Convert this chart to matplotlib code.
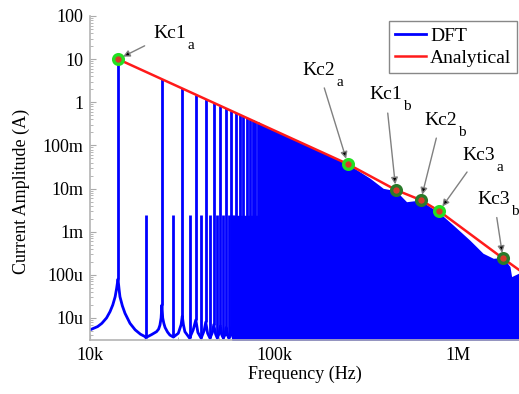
import matplotlib.pyplot as plt
from matplotlib.ticker import NullFormatter

plt.rcParams['font.family'] = ['Liberation Serif', 'DejaVu Serif']

# DFT trace below the spikes (resonance skirts), frequency in Hz, current in A
skirt_f = [10000, 11000, 11600, 12300, 12850, 13300, 13700, 13950, 14200, 14400,
           14550, 15000, 15500, 16500, 17600, 18800, 19900, 20100, 21600, 23000,
           23600, 24000, 24350, 24600, 24850, 25200, 25600, 26400, 27200, 28400,
           30200, 31300, 31750, 32200, 32800, 34800, 36400, 37600, 38600, 40200,
           41700, 42600, 43600, 44900, 46200, 47100, 48200, 49200, 50200, 51200,
           52100, 53100, 54100, 55000, 55900, 56800, 57700, 58500, 59300, 60200]
skirt_a = [5.3e-6, 6.3e-6, 7.5e-6, 1.0e-5, 1.4e-5, 2.0e-5, 3.1e-5, 4.8e-5, 8.0e-5, 4.5e-5,
           3.1e-5, 1.9e-5, 1.28e-5, 7.5e-6, 5.3e-6, 4.2e-6, 3.7e-6, 3.5e-6, 4.1e-6, 4.8e-6,
           5.5e-6, 6.8e-6, 1.0e-5, 2.0e-5, 1.0e-5, 7.5e-6, 6.0e-6, 4.7e-6, 4.0e-6, 3.6e-6,
           4.4e-6, 7.0e-6, 1.1e-5, 7.0e-6, 4.8e-6, 3.4e-6, 5.3e-6, 9.0e-6, 4.6e-6, 3.4e-6,
           5.0e-6, 8.0e-6, 4.4e-6, 3.4e-6, 4.5e-6, 7.0e-6, 4.2e-6, 3.4e-6, 4.2e-6, 6.5e-6,
           4.0e-6, 3.4e-6, 4.0e-6, 6.0e-6, 4.0e-6, 3.4e-6, 4.0e-6, 6.0e-6, 4.0e-6, 3.4e-6]

# tall spectral lines
odd_f = [14200, 24600, 31750, 37600, 42600, 47100, 51200, 55000, 58500,
         61900, 65100, 68100, 71000, 73800, 76500, 79100, 81600, 84000]
odd_top = [10, 3.45, 2.10, 1.51, 1.19, 0.98, 0.83, 0.72, 0.64,
           0.575, 0.52, 0.48, 0.44, 0.41, 0.38, 0.36, 0.34, 0.32]
odd_base = [8.0e-5, 2.0e-5, 1.1e-5, 9.0e-6, 8.0e-6, 7.0e-6, 6.5e-6, 6.0e-6, 6.0e-6,
            5e-6, 5e-6, 5e-6, 5e-6, 5e-6, 5e-6, 5e-6, 5e-6, 5e-6]

# short spectral lines
even_f = [20100, 28400, 34800, 40200, 44900, 49200, 53100, 56800, 60200]
even_top = [2.4e-3, 2.4e-3, 2.4e-3, 2.4e-3, 2.4e-3, 2.4e-3, 2.4e-3, 2.4e-3, 2.4e-3]
even_base = [3.5e-6, 3.6e-6, 3.4e-6, 3.4e-6, 3.4e-6, 3.4e-6, 3.4e-6, 3.4e-6, 3.4e-6]

# upper edge of the dense part of the spectrum
dense_f = [59000, 84000, 84000, 252000, 333000, 393000, 460000, 526000, 621000,
           704000, 798000, 942000, 1160000, 1370000, 1560000, 1760000, 1920000,
           1960000, 2150000]
dense_a = [2.4e-3, 2.4e-3, 0.32, 0.037, 1.73e-2, 1.01e-2, 8.9e-3, 4.95e-3, 5.4e-3,
           3.8e-3, 2.67e-3, 1.43e-3, 6.4e-4, 3.16e-4, 2.41e-4, 2.55e-4, 1.55e-4,
           9.1e-5, 1.1e-4]

# analytical envelope
ana_f = [14200, 252000, 460000, 629000, 791000, 1760000, 2150000]
ana_a = [10, 0.037, 9.3e-3, 5.4e-3, 3.0e-3, 2.4e-4, 1.3e-4]

# critical points
kc_f = [14200, 252000, 460000, 629000, 791000, 1760000]
kc_a = [10, 0.037, 9.3e-3, 5.4e-3, 3.0e-3, 2.4e-4]
kc_name = ['Kc1', 'Kc2', 'Kc1', 'Kc2', 'Kc3', 'Kc3']
kc_sub = ['a', 'a', 'b', 'b', 'a', 'b']
kc_off = [(52, 26), (-29, 94), (-10, 95), (20, 80), (40, 56), (-9, 59)]

xticks = [1e4, 1e5, 1e6]
xlabels = ['10k', '100k', '1M']
yticks = [1e-5, 1e-4, 1e-3, 1e-2, 1e-1, 1, 10, 100]
ylabels = ['10u', '100u', '1m', '10m', '100m', '1', '10', '100']

blue = '#0000ff'
red = '#ff1a1a'

fig = plt.figure(figsize=(5.19, 3.94), dpi=100)
ax = fig.add_axes([90 / 519, 54 / 394, 429 / 519, 324 / 394])
ax.set_xscale('log')
ax.set_yscale('log')

ax.plot(skirt_f, skirt_a, color=blue, lw=2.0, zorder=2)
ax.vlines(odd_f, odd_base, odd_top, color=blue, lw=2.0, zorder=2)
ax.vlines(even_f, even_base, even_top, color=blue, lw=2.0, zorder=2)
ax.fill_between(dense_f, 1e-6, dense_a, color=blue, lw=0, zorder=2)
ax.plot([], [], color=blue, lw=2, label='DFT')

ax.plot(ana_f, ana_a, color=red, lw=1.8, zorder=3, label='Analytical')

for i in range(len(kc_f)):
    edge = '#22e022' if kc_sub[i] == 'a' else '#2a7a2a'
    ax.plot(kc_f[i], kc_a[i], 'o', ms=7, mfc='#d83a2a', mec=edge, mew=2.4, zorder=4)
    dx, dy = kc_off[i]
    ax.annotate(kc_name[i], xy=(kc_f[i], kc_a[i]), xytext=(dx, dy),
                textcoords='offset pixels', ha='center', va='center', fontsize=14,
                arrowprops=dict(arrowstyle='-|>', fc='k', ec='#808080', lw=1,
                                mutation_scale=10, shrinkA=5, shrinkB=4), zorder=5)
    ax.annotate(kc_sub[i], xy=(kc_f[i], kc_a[i]), xytext=(dx + 21, dy - 12),
                textcoords='offset pixels', ha='center', va='center', fontsize=11, zorder=5)

ax.set_xlim(1e4, 2.15e6)
ax.set_ylim(3.08e-6, 100)
ax.set_xticks(xticks)
ax.set_xticklabels(xlabels)
ax.set_yticks(yticks)
ax.set_yticklabels(ylabels)
ax.xaxis.set_minor_formatter(NullFormatter())
ax.yaxis.set_minor_formatter(NullFormatter())
ax.tick_params(which='both', direction='in', color='#aaaaaa', labelsize=13, pad=5)
ax.tick_params(which='major', length=4)
ax.tick_params(which='minor', length=2)

for s in ['top', 'right']:
    ax.spines[s].set_visible(False)
for s in ['left', 'bottom']:
    ax.spines[s].set_color('#b4b4b4')
    ax.spines[s].set_linewidth(1.2)

ax.set_xlabel('Frequency (Hz)', fontsize=13, labelpad=1)
ax.set_ylabel('Current Amplitude (A)', fontsize=13)
ax.yaxis.set_label_coords(-0.14, 0.46)

leg = ax.legend(loc='upper right', bbox_to_anchor=(1.0, 0.99), fontsize=14,
                handlelength=1.6, handletextpad=0.2, borderpad=0.3,
                labelspacing=0.25, borderaxespad=0.1, fancybox=False, framealpha=1)
leg.get_frame().set_edgecolor('#888888')
leg.get_frame().set_linewidth(1)

fig.savefig('out.png', dpi=100)
